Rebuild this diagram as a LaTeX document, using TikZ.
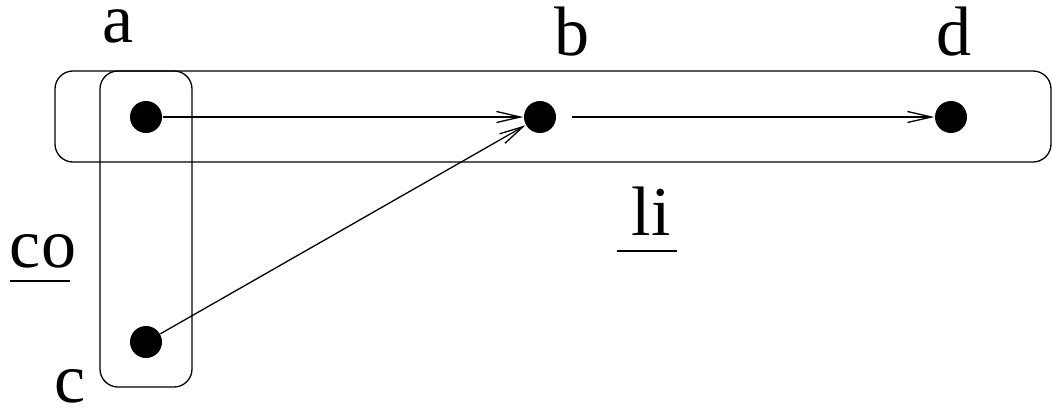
\documentclass[tikz,border=0pt]{standalone}
\usepackage{fontspec}
\setmainfont{Liberation Serif}
\usetikzlibrary{arrows.meta}
\begin{document}
\begin{tikzpicture}[x=0.5pt,y=-0.5pt,
  line width=0.65pt,
  dot/.style={circle,fill=black,draw=none,inner sep=0pt,minimum size=16pt},
  lbl/.style={inner sep=0pt,anchor=base,font=\fontsize{35pt}{40pt}\selectfont},
  grp/.style={draw,rounded corners=9pt},
  arr/.style={-{Straight Barb[length=12pt,width=5.5pt]}},
  uline/.style={draw}]
\useasboundingbox (0,0) rectangle (1052,407);
% groups
\draw[grp] (55,71) rectangle (1051,162);
\draw[grp] (100,71) rectangle (192,387);
% vertices
\node[dot] (a) at (146,117) {};
\node[dot] (b) at (540,117) {};
\node[dot] (d) at (951,117) {};
\node[dot] (c) at (146,342) {};
% labels
\node[lbl] (la) at (118,42) {a};
\node[lbl] (lb) at (572,55) {b};
\node[lbl] (ld) at (954,55) {d};
\node[lbl] (lc) at (70,402) {c};
\node[lbl] (lco) at (43,267) {co};
\node[lbl] (lli) at (651,235) {li};
\draw[uline] (10,281) -- (70,281);
\draw[uline] (617,251) -- (677,251);
% edges
\draw[arr] (a) -- (b);
\draw[arr] (c) -- (b);
\draw[arr,shorten <=7.5pt] (b) -- (d);
\end{tikzpicture}
\end{document}
